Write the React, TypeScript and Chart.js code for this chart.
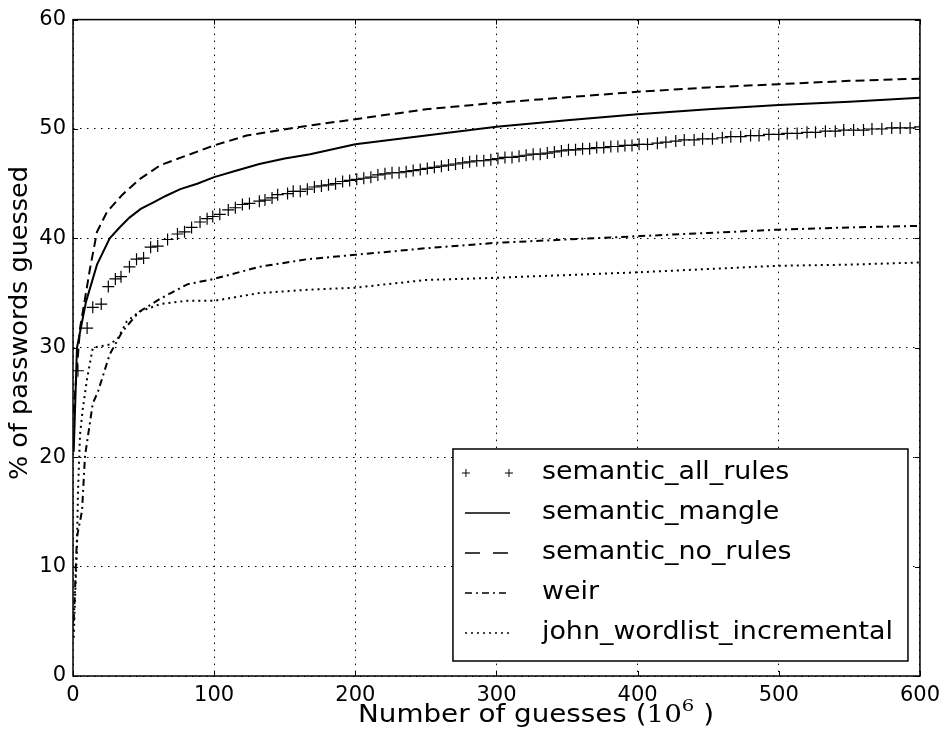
import { useEffect, useRef } from 'react';
import { Chart, registerables } from 'chart.js';
Chart.register(...registerables);

const seriesNames = ['semantic_all_rules', 'semantic_mangle', 'semantic_no_rules', 'weir', 'john_wordlist_incremental'];

const allRulesX = [3.5, 10, 14, 20, 25, 30, 34, 40, 45, 50, 55, 60, 67, 74, 79, 84, 90, 95, 99, 104, 110, 115, 120, 125, 132, 136, 141, 145, 152, 156, 161, 166,
  171, 176, 181, 186, 191, 196, 201, 206, 211, 216, 221, 226, 231, 236, 241, 246, 251, 256, 261, 266, 271, 276, 281, 286, 291, 296, 301, 306, 311, 316, 321, 326, 331, 336, 341, 346, 351, 356, 361, 366, 371, 376, 381, 386, 391, 396, 401,
  407, 414, 420, 427, 433, 440, 446, 453, 460, 466, 473, 480, 486, 493, 500, 506, 513, 520, 526, 533, 540, 546, 553, 560, 566, 573, 580, 586, 593, 600];
const allRulesY = [27.9, 31.8, 33.7, 34.0, 35.6, 36.3, 36.5, 37.4, 38.1, 38.2, 39.2, 39.3, 39.9, 40.4, 40.6, 41.0, 41.5, 41.8, 42.0, 42.2, 42.6, 42.8, 43.1, 43.2, 43.4, 43.5, 43.7, 44.0, 44.1, 44.3, 44.3, 44.5,
  44.7, 44.8, 44.9, 45.0, 45.2, 45.3, 45.4, 45.5, 45.6, 45.8, 45.9, 46.0, 46.0, 46.1, 46.2, 46.3, 46.4, 46.5, 46.6, 46.7, 46.8, 46.9, 47.0, 47.1, 47.1, 47.2, 47.3, 47.4, 47.4, 47.5, 47.6, 47.7, 47.7, 47.8, 47.9, 48.0, 48.1, 48.1, 48.2, 48.2, 48.3, 48.3, 48.4, 48.4, 48.5, 48.5, 48.6,
  48.6, 48.7, 48.8, 48.9, 49.0, 49.0, 49.1, 49.1, 49.2, 49.3, 49.3, 49.4, 49.4, 49.5, 49.5, 49.6, 49.6, 49.7, 49.7, 49.8, 49.8, 49.9, 49.9, 49.9, 50.0, 50.0, 50.1, 50.1, 50.1, 50.2];

const mangleX = [0.5, 2.8, 9.2, 17, 26, 33, 40, 48, 57, 66, 76, 88, 100, 116, 132, 150, 168, 200, 250, 300, 350, 400, 450, 500, 550, 600];
const mangleY = [20.5, 30.0, 34.2, 37.6, 40.0, 41.0, 41.9, 42.7, 43.3, 43.9, 44.5, 45.0, 45.6, 46.2, 46.8, 47.3, 47.7, 48.6, 49.4, 50.2, 50.8, 51.35, 51.8, 52.2, 52.5, 52.85];

const noRulesX = [0.3, 5, 12, 17, 24, 35, 47, 62, 81, 100, 123, 156, 200, 250, 300, 350, 400, 450, 500, 550, 600];
const noRulesY = [24.0, 31.8, 37.2, 40.6, 42.4, 44.0, 45.4, 46.7, 47.6, 48.5, 49.4, 50.1, 50.9, 51.8, 52.4, 52.9, 53.4, 53.8, 54.1, 54.4, 54.6];

const weirX = [0.5, 1.4, 2.8, 6.4, 8.5, 14, 17.7, 26, 35, 47, 62, 81, 100, 132, 166, 200, 250, 300, 350, 400, 450, 500, 550, 600];
const weirY = [5.0, 7.8, 12.7, 15.1, 20.1, 24.9, 26.0, 29.4, 31.5, 33.3, 34.5, 35.8, 36.3, 37.4, 38.1, 38.5, 39.1, 39.6, 39.9, 40.2, 40.5, 40.8, 41.0, 41.15];

const johnX = [0.5, 1.4, 2.8, 3.5, 5, 7, 10, 14, 26, 32, 38, 47, 62, 81, 100, 132, 166, 200, 250, 300, 350, 400, 450, 500, 550, 600];
const johnY = [3.5, 6.9, 11.7, 16.7, 22.1, 24.5, 27.2, 30.0, 30.3, 30.9, 32.4, 33.3, 34.0, 34.3, 34.3, 35.0, 35.3, 35.5, 36.2, 36.4, 36.65, 36.9, 37.2, 37.5, 37.6, 37.8];

const xTicks = [0, 100, 200, 300, 400, 500, 600];
const yTicks = [0, 10, 20, 30, 40, 50, 60];
const xTitleMain = 'Number of guesses (';
const xTitleBase = '10';
const xTitleExp = '6';
const xTitleEnd = ' )';
const yTitle = '% of passwords guessed';

const SANS = '"DejaVu Sans"';
const SERIF = '"DejaVu Serif"';

function pts(xs: number[], ys: number[]) {
  return xs.map((x, i) => ({ x, y: ys[i] }));
}

const dashes: (number[] | null)[] = [null, [], [9, 5], [7, 4, 2, 4], [2, 4]];

const framePlugin = {
  id: 'frameLegend',
  afterDraw(chart: any) {
    const { ctx, chartArea: a, scales } = chart;
    ctx.save();
    ctx.strokeStyle = '#000';
    ctx.fillStyle = '#000';
    ctx.setLineDash([]);
    ctx.lineWidth = 1;
    const seg = (x1: number, y1: number, x2: number, y2: number) => {
      ctx.beginPath(); ctx.moveTo(x1, y1); ctx.lineTo(x2, y2); ctx.stroke();
    };
    for (const v of xTicks) {
      const px = Math.round(scales.x.getPixelForValue(v)) + 0.5;
      seg(px, a.bottom, px, a.bottom - 5);
      seg(px, a.top, px, a.top + 5);
    }
    for (const v of yTicks) {
      const py = Math.round(scales.y.getPixelForValue(v)) + 0.5;
      seg(a.left, py, a.left + 5, py);
      seg(a.right, py, a.right - 5, py);
    }
    ctx.lineWidth = 1.5;
    ctx.strokeRect(a.left, a.top, a.right - a.left, a.bottom - a.top);

    // legend
    const bw = 455, bh = 212;
    const bx = a.right - 12 - bw;
    const by = a.bottom - 15 - bh;
    ctx.fillStyle = '#fff';
    ctx.fillRect(bx, by, bw, bh);
    ctx.lineWidth = 1.5;
    ctx.strokeRect(bx, by, bw, bh);
    ctx.fillStyle = '#000';
    const sx0 = bx + 12, sx1 = bx + 57;
    chart.data.datasets.forEach((ds: any, i: number) => {
      const y = by + 24 + i * 40;
      ctx.lineWidth = 1.7;
      if (i === 0) {
        ctx.lineWidth = 1;
        ctx.setLineDash([]);
        for (const cx of [sx0 + 1, sx1 - 1]) {
          seg(cx - 4, y, cx + 4, y);
          seg(cx, y - 4, cx, y + 4);
        }
      } else {
        ctx.setLineDash(i === 2 ? [15, 13] : (dashes[i] as number[]));
        seg(sx0, y, sx1, y);
        ctx.setLineDash([]);
      }
      ctx.save();
      ctx.translate(bx + 89, y);
      ctx.scale(1.12, 1);
      ctx.font = `24px ${SANS}`;
      ctx.textBaseline = 'middle';
      ctx.textAlign = 'left';
      ctx.fillText(ds.label, 0, 0);
      ctx.restore();
    });

    // x title
    const fs = 24;
    const parts = [
      { t: xTitleMain, f: `${fs}px ${SANS}`, dy: 0 },
      { t: xTitleBase, f: `${fs}px ${SERIF}`, dy: 0 },
      { t: xTitleExp, f: `${Math.round(fs * 0.7)}px ${SERIF}`, dy: -fs * 0.4 },
      { t: xTitleEnd, f: `${fs}px ${SANS}`, dy: 0 },
    ];
    let total = 0;
    const widths = parts.map((p) => { ctx.font = p.f; const w = ctx.measureText(p.t).width; total += w; return w; });
    const targetW = 356;
    const k = targetW / total;
    ctx.save();
    ctx.translate(358, 716);
    ctx.scale(k, 1);
    ctx.textBaseline = 'middle';
    ctx.textAlign = 'left';
    let xx = 0;
    parts.forEach((p, i) => { ctx.font = p.f; ctx.fillText(p.t, xx, p.dy); xx += widths[i]; });
    ctx.restore();

    // y title
    ctx.save();
    ctx.font = `24px ${SANS}`;
    const yw = ctx.measureText(yTitle).width;
    const ky = 314 / yw;
    ctx.translate(21, 323);
    ctx.rotate(-Math.PI / 2);
    ctx.scale(ky, 1);
    ctx.textAlign = 'center';
    ctx.textBaseline = 'middle';
    ctx.fillText(yTitle, 0, 0);
    ctx.restore();

    ctx.restore();
  },
};

export default function App() {
  const ref = useRef<HTMLCanvasElement | null>(null);
  useEffect(() => {
    document.body.style.margin = '0';
    const canvas = ref.current!;
    const lineDs = (label: string, xs: number[], ys: number[], dash: number[]) => ({
      label,
      data: pts(xs, ys),
      showLine: true,
      borderColor: '#000',
      backgroundColor: '#000',
      borderWidth: 2,
      borderDash: dash,
      pointRadius: 0,
      pointHoverRadius: 0,
      tension: 0,
    });
    const chart = new Chart(canvas, {
      type: 'scatter',
      data: {
        datasets: [
          {
            label: seriesNames[0],
            data: pts(allRulesX, allRulesY),
            showLine: false,
            pointStyle: 'cross',
            pointRadius: 6,
            pointBorderWidth: 1.2,
            borderColor: '#000',
            backgroundColor: '#000',
          } as any,
          lineDs(seriesNames[1], mangleX, mangleY, []),
          lineDs(seriesNames[2], noRulesX, noRulesY, dashes[2] as number[]),
          lineDs(seriesNames[3], weirX, weirY, dashes[3] as number[]),
          lineDs(seriesNames[4], johnX, johnY, dashes[4] as number[]),
        ],
      },
      options: {
        responsive: false,
        animation: false,
        layout: { padding: { left: 0, right: 27, top: 17, bottom: 0 } },
        plugins: { legend: { display: false }, tooltip: { enabled: false } },
        events: [],
        scales: {
          x: {
            type: 'linear',
            min: 0,
            max: 600,
            afterFit: (s: any) => { s.height = 60; },
            afterBuildTicks: (s: any) => { s.ticks = xTicks.map((v) => ({ value: v })); },
            ticks: { font: { family: 'DejaVu Sans', size: 21 }, color: '#000', padding: 7 },
            grid: { color: '#000', lineWidth: 1, drawTicks: false },
            border: { display: false, dash: [1.5, 5.5] },
          },
          y: {
            type: 'linear',
            min: 0,
            max: 60,
            afterFit: (s: any) => { s.width = 73; },
            afterBuildTicks: (s: any) => { s.ticks = yTicks.map((v) => ({ value: v })); },
            ticks: { font: { family: 'DejaVu Sans', size: 21 }, color: '#000', padding: 7 },
            grid: { color: '#000', lineWidth: 1, drawTicks: false },
            border: { display: false, dash: [1.5, 5.5] },
          },
        },
      },
      plugins: [framePlugin],
    });
    return () => chart.destroy();
  }, []);
  return (
    <div style={{ width: 947, height: 736 }}>
      <canvas ref={ref} width={947} height={736} style={{ display: 'block' }} />
    </div>
  );
}
